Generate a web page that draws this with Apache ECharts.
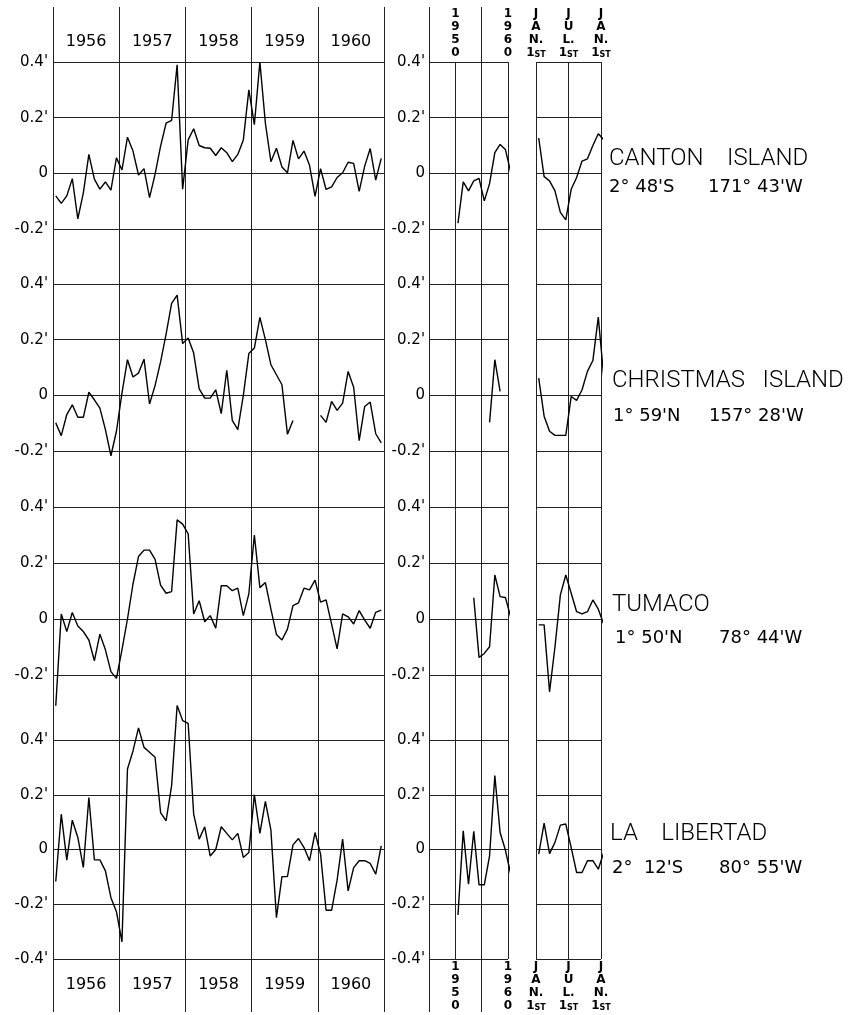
<!DOCTYPE html>
<html><head><meta charset="utf-8">
<style>html,body{margin:0;padding:0;background:#fff}#c{width:863px;height:1015px}</style>
<script src="https://cdn.jsdelivr.net/npm/echarts@6/dist/echarts.min.js"></script>
</head><body><div id="c"></div>
<script>
// ---------- data ----------
const years = ['1956', '1957', '1958', '1959', '1960'];
const annualYears = [1950, 1951, 1952, 1953, 1954, 1955, 1956, 1957, 1958, 1959, 1960];
const seasonMonths = ['Jan', 'Feb', 'Mar', 'Apr', 'May', 'Jun', 'Jul', 'Aug', 'Sep', 'Oct', 'Nov', 'Dec', 'Jan'];
const annualTickLabels = ['1950', '1960'];
const seasonTickLabels = ['JAN.', 'JUL.', 'JAN.'];
const seasonTickSuffix = ['1', 'ST'];
const yTickValues = [0.4, 0.2, 0, -0.2, -0.4];
const yTickLabels = ["0.4'", "0.2'", "0", "-0.2'", "-0.4'"];

const stationNames = ['CANTON    ISLAND', 'CHRISTMAS   ISLAND', 'TUMACO', 'LA    LIBERTAD'];
const stationLat = ["2° 48'S", "1° 59'N", "1° 50'N", "2°  12'S"];
const stationLon = ["171° 43'W", "157° 28'W", "78° 44'W", "80° 55'W"];

const cantonMonthly = [-0.081, -0.108, -0.081, -0.019, -0.164, -0.07, 0.068, -0.021, -0.057, -0.031, -0.06, 0.056,
  0.012, 0.13, 0.08, -0.006, 0.017, -0.087, -0.004, 0.098, 0.18, 0.19, 0.39, -0.057,
  0.12, 0.16, 0.10, 0.092, 0.09, 0.064, 0.092, 0.074, 0.042, 0.068, 0.12, 0.30,
  0.175, 0.40, 0.18, 0.042, 0.09, 0.023, 0.002, 0.118, 0.052, 0.08, 0.029, -0.083,
  0.017, -0.058, -0.049, -0.015, 0.002, 0.04, 0.036, -0.065, 0.026, 0.089, -0.024, 0.054];
const christmasMonthly = [-0.099, -0.145, -0.069, -0.034, -0.079, -0.079, 0.011, -0.016, -0.046, -0.123, -0.217, -0.129,
  0.008, 0.128, 0.066, 0.08, 0.13, -0.031, 0.035, 0.12, 0.22, 0.33, 0.36, 0.186,
  0.206, 0.152, 0.023, -0.01, -0.01, 0.02, -0.066, 0.09, -0.09, -0.123, 0.0, 0.15,
  0.17, 0.28, 0.2, 0.11, 0.074, 0.038, -0.14, -0.09, null, null, null, null,
  -0.072, -0.097, -0.022, -0.054, -0.028, 0.086, 0.029, -0.163, -0.04, -0.024, -0.138, -0.171];
const tumacoMonthly = [-0.31, 0.018, -0.045, 0.023, -0.025, -0.045, -0.075, -0.149, -0.054, -0.11, -0.188, -0.212,
  -0.11, 0.0, 0.125, 0.223, 0.246, 0.246, 0.213, 0.121, 0.092, 0.098, 0.354, 0.339,
  0.304, 0.018, 0.065, -0.01, 0.012, -0.033, 0.119, 0.119, 0.101, 0.11, 0.012, 0.09,
  0.30, 0.112, 0.13, 0.035, -0.055, -0.075, -0.036, 0.048, 0.058, 0.11, 0.104, 0.139,
  0.06, 0.068, -0.018, -0.107, 0.018, 0.008, -0.018, 0.03, -0.004, -0.033, 0.024, 0.032];
const libertadMonthly = [-0.117, 0.129, -0.039, 0.107, 0.044, -0.066, 0.19, -0.038, -0.038, -0.078, -0.176, -0.227,
  -0.337, 0.294, 0.36, 0.444, 0.373, 0.355, 0.337, 0.135, 0.105, 0.233, 0.526, 0.471,
  0.461, 0.129, 0.038, 0.083, -0.024, 0.0, 0.083, 0.059, 0.035, 0.059, -0.029, -0.011,
  0.2, 0.059, 0.176, 0.071, -0.249, -0.099, -0.099, 0.017, 0.04, 0.007, -0.041, 0.062,
  -0.017, -0.222, -0.222, -0.112, 0.038, -0.151, -0.066, -0.041, -0.041, -0.051, -0.09, 0.013];

const cantonAnnual = [-0.179, -0.031, -0.063, -0.027, -0.018, -0.099, -0.037, 0.074, 0.104, 0.086, 0.005];
const christmasAnnual = [null, null, null, null, null, null, -0.097, 0.128, 0.014, null, null];
const tumacoAnnual = [null, null, null, 0.076, -0.137, -0.123, -0.099, 0.157, 0.08, 0.077, 0.008];
const libertadAnnual = [-0.239, 0.068, -0.127, 0.066, -0.129, -0.129, -0.023, 0.27, 0.062, -0.002, -0.088];

const cantonSeason = [0.127, -0.012, -0.027, -0.063, -0.14, -0.167, -0.057, -0.015, 0.044, 0.052, 0.1, 0.142, 0.121];
const christmasSeason = [0.062, -0.075, -0.129, -0.144, -0.144, -0.144, -0.004, -0.018, 0.02, 0.086, 0.125, 0.281, 0.068];
const tumacoSeason = [-0.021, -0.021, -0.26, -0.1, 0.086, 0.157, 0.092, 0.026, 0.018, 0.026, 0.068, 0.035, -0.018];
const libertadSeason = [-0.017, 0.096, -0.015, 0.026, 0.089, 0.093, 0.007, -0.084, -0.084, -0.041, -0.041, -0.072, -0.011];

const monthlySeries = [cantonMonthly, christmasMonthly, tumacoMonthly, libertadMonthly];
const annualSeries = [cantonAnnual, christmasAnnual, tumacoAnnual, libertadAnnual];
const seasonSeries = [cantonSeason, christmasSeason, tumacoSeason, libertadSeason];

// ---------- layout ----------
const MAIN = {left: 53, right: 384, min: 0, max: 60, interval: 12};
const MID = {left: 429, right: 508, min: 1945, max: 1960, interval: 5};
const SEA = {left: 536, right: 601, min: 0, max: 12, interval: 6};
const rowTop = [62, 284, 507, 740];
const rowBottom = [229, 451, 675, 959];
const rowMin = [-0.2, -0.2, -0.2, -0.4];
const FULL_TOP = 7, FULL_BOTTOM = 1012;

const INK = '#000';
const GRIDC = '#222';
const FONT = 'DejaVu Sans';

const grid = [], xAxis = [], yAxis = [], series = [];

function addVGrid(p, top, bottom, max) {
  const gi = grid.length;
  const mx = max === undefined ? p.max : max;
  const width = (p.right - p.left) * (mx - p.min) / (p.max - p.min);
  grid.push({left: p.left, top: top, width: width, height: bottom - top});
  xAxis.push({gridIndex: gi, type: 'value', min: p.min, max: mx,
    interval: (max === undefined ? p.interval : mx - p.min),
    axisLine: {show: false}, axisTick: {show: false}, axisLabel: {show: false},
    splitLine: {show: true, lineStyle: {color: GRIDC, width: 1}}});
  yAxis.push({gridIndex: gi, type: 'value', show: false});
}
// vertical rules
addVGrid(MAIN, FULL_TOP, FULL_BOTTOM);
addVGrid(MID, FULL_TOP, FULL_BOTTOM, 1955);
addVGrid(MID, rowTop[0], rowBottom[3]);
addVGrid(SEA, rowTop[0], rowBottom[3]);

function yLabel(v) {
  for (let i = 0; i < yTickValues.length; i++) {
    if (Math.abs(v - yTickValues[i]) < 1e-6) return yTickLabels[i];
  }
  return '';
}
function annualLabel(v) {
  const s = String(Math.round(v));
  return annualTickLabels.includes(s) ? s.split('').join('\n') : '';
}
function seasonLabel(v) {
  const t = seasonTickLabels[Math.round(v / 6)];
  if (!t) return '';
  return '{b|' + t[0] + '}\n{b|' + t[1] + '}\n{b|' + t.slice(2) + '}\n{b|' + seasonTickSuffix[0] + '}{s|' + seasonTickSuffix[1] + '}';
}
const seasonRich = {
  b: {fontFamily: FONT, fontSize: 12, fontWeight: 'bold', color: INK, lineHeight: 13},
  s: {fontFamily: FONT, fontSize: 8, fontWeight: 'bold', color: INK, lineHeight: 13, verticalAlign: 'bottom'}
};

const lineStyle = {color: '#000', width: 1.4};

for (let r = 0; r < 4; r++) {
  const panels = [MAIN, MID, SEA];
  panels.forEach((p, k) => {
    const gi = grid.length;
    grid.push({left: p.left, top: rowTop[r], width: p.right - p.left, height: rowBottom[r] - rowTop[r]});
    const xi = xAxis.length;
    const edge = (r === 0) ? 'top' : 'bottom';
    const showLab = (k > 0) && (r === 0 || r === 3);
    const xa = {gridIndex: gi, type: 'value', min: p.min, max: p.max, interval: p.interval,
      position: edge, show: showLab || k === 0,
      axisLine: {show: false}, axisTick: {show: false}, splitLine: {show: false},
      axisLabel: {show: false}};
    if (showLab) {
      xa.axisLabel = {show: true, showMinLabel: true, showMaxLabel: true,
        margin: r === 0 ? 3 : 1, color: INK, fontFamily: FONT, fontSize: 12, fontWeight: 'bold', lineHeight: 13,
        formatter: k === 1 ? annualLabel : seasonLabel, rich: k === 2 ? seasonRich : undefined};
    }
    xAxis.push(xa);
    if (k === 0 && (r === 0 || r === 3)) {
      xAxis.push({gridIndex: gi, type: 'category', data: years, position: edge,
        axisLine: {show: false}, axisTick: {show: false}, splitLine: {show: false},
        axisLabel: {show: true, interval: 0, margin: r === 0 ? 12 : 18, color: INK, fontFamily: FONT, fontSize: 16}});
    }
    const yi = yAxis.length;
    yAxis.push({gridIndex: gi, type: 'value', min: rowMin[r], max: 0.4, interval: 0.2,
      axisLine: {show: false}, axisTick: {show: false},
      splitLine: {show: true, lineStyle: {color: GRIDC, width: 1}},
      axisLabel: {show: k < 2, margin: k === 0 ? 5 : 4, color: INK, fontFamily: FONT, fontSize: 15, formatter: yLabel}});
    let data;
    if (k === 0) data = monthlySeries[r].map((v, i) => [i + 0.5, v]);
    else if (k === 1) data = annualYears.map((y, i) => [y + 0.5, annualSeries[r][i]]);
    else data = seasonMonths.map((m, i) => [i + 0.5, seasonSeries[r][i]]);
    series.push({type: 'line', xAxisIndex: xi, yAxisIndex: yi, data: data, symbol: 'none',
      clip: false, connectNulls: false, silent: true, lineStyle: lineStyle, z: 5});
  });
}

// station labels
const nameLeft = [609, 612, 612, 610];
const nameTop = [147, 369, 593, 822];
const latLeft = [609, 613, 615, 612];
const lonLeft = [708, 709, 719, 719];
const subTop = [178, 407, 629, 859];
const title = [];
for (let r = 0; r < 4; r++) {
  title.push({text: stationNames[r], left: nameLeft[r], top: nameTop[r], padding: 0,
    textStyle: {fontFamily: 'Roboto', fontSize: 24, fontWeight: 300, color: INK}});
  title.push({text: stationLat[r], left: latLeft[r], top: subTop[r], padding: 0,
    textStyle: {fontFamily: FONT, fontSize: 18, fontWeight: 'normal', color: INK}});
  title.push({text: stationLon[r], left: lonLeft[r], top: subTop[r], padding: 0,
    textStyle: {fontFamily: FONT, fontSize: 18, fontWeight: 'normal', color: INK}});
}

const chart = echarts.init(document.getElementById('c'), null, {renderer: 'canvas'});
chart.setOption({
  backgroundColor: '#fff',
  animation: false,
  title: title,
  grid: grid,
  xAxis: xAxis,
  yAxis: yAxis,
  series: series
});
</script>
</body></html>
